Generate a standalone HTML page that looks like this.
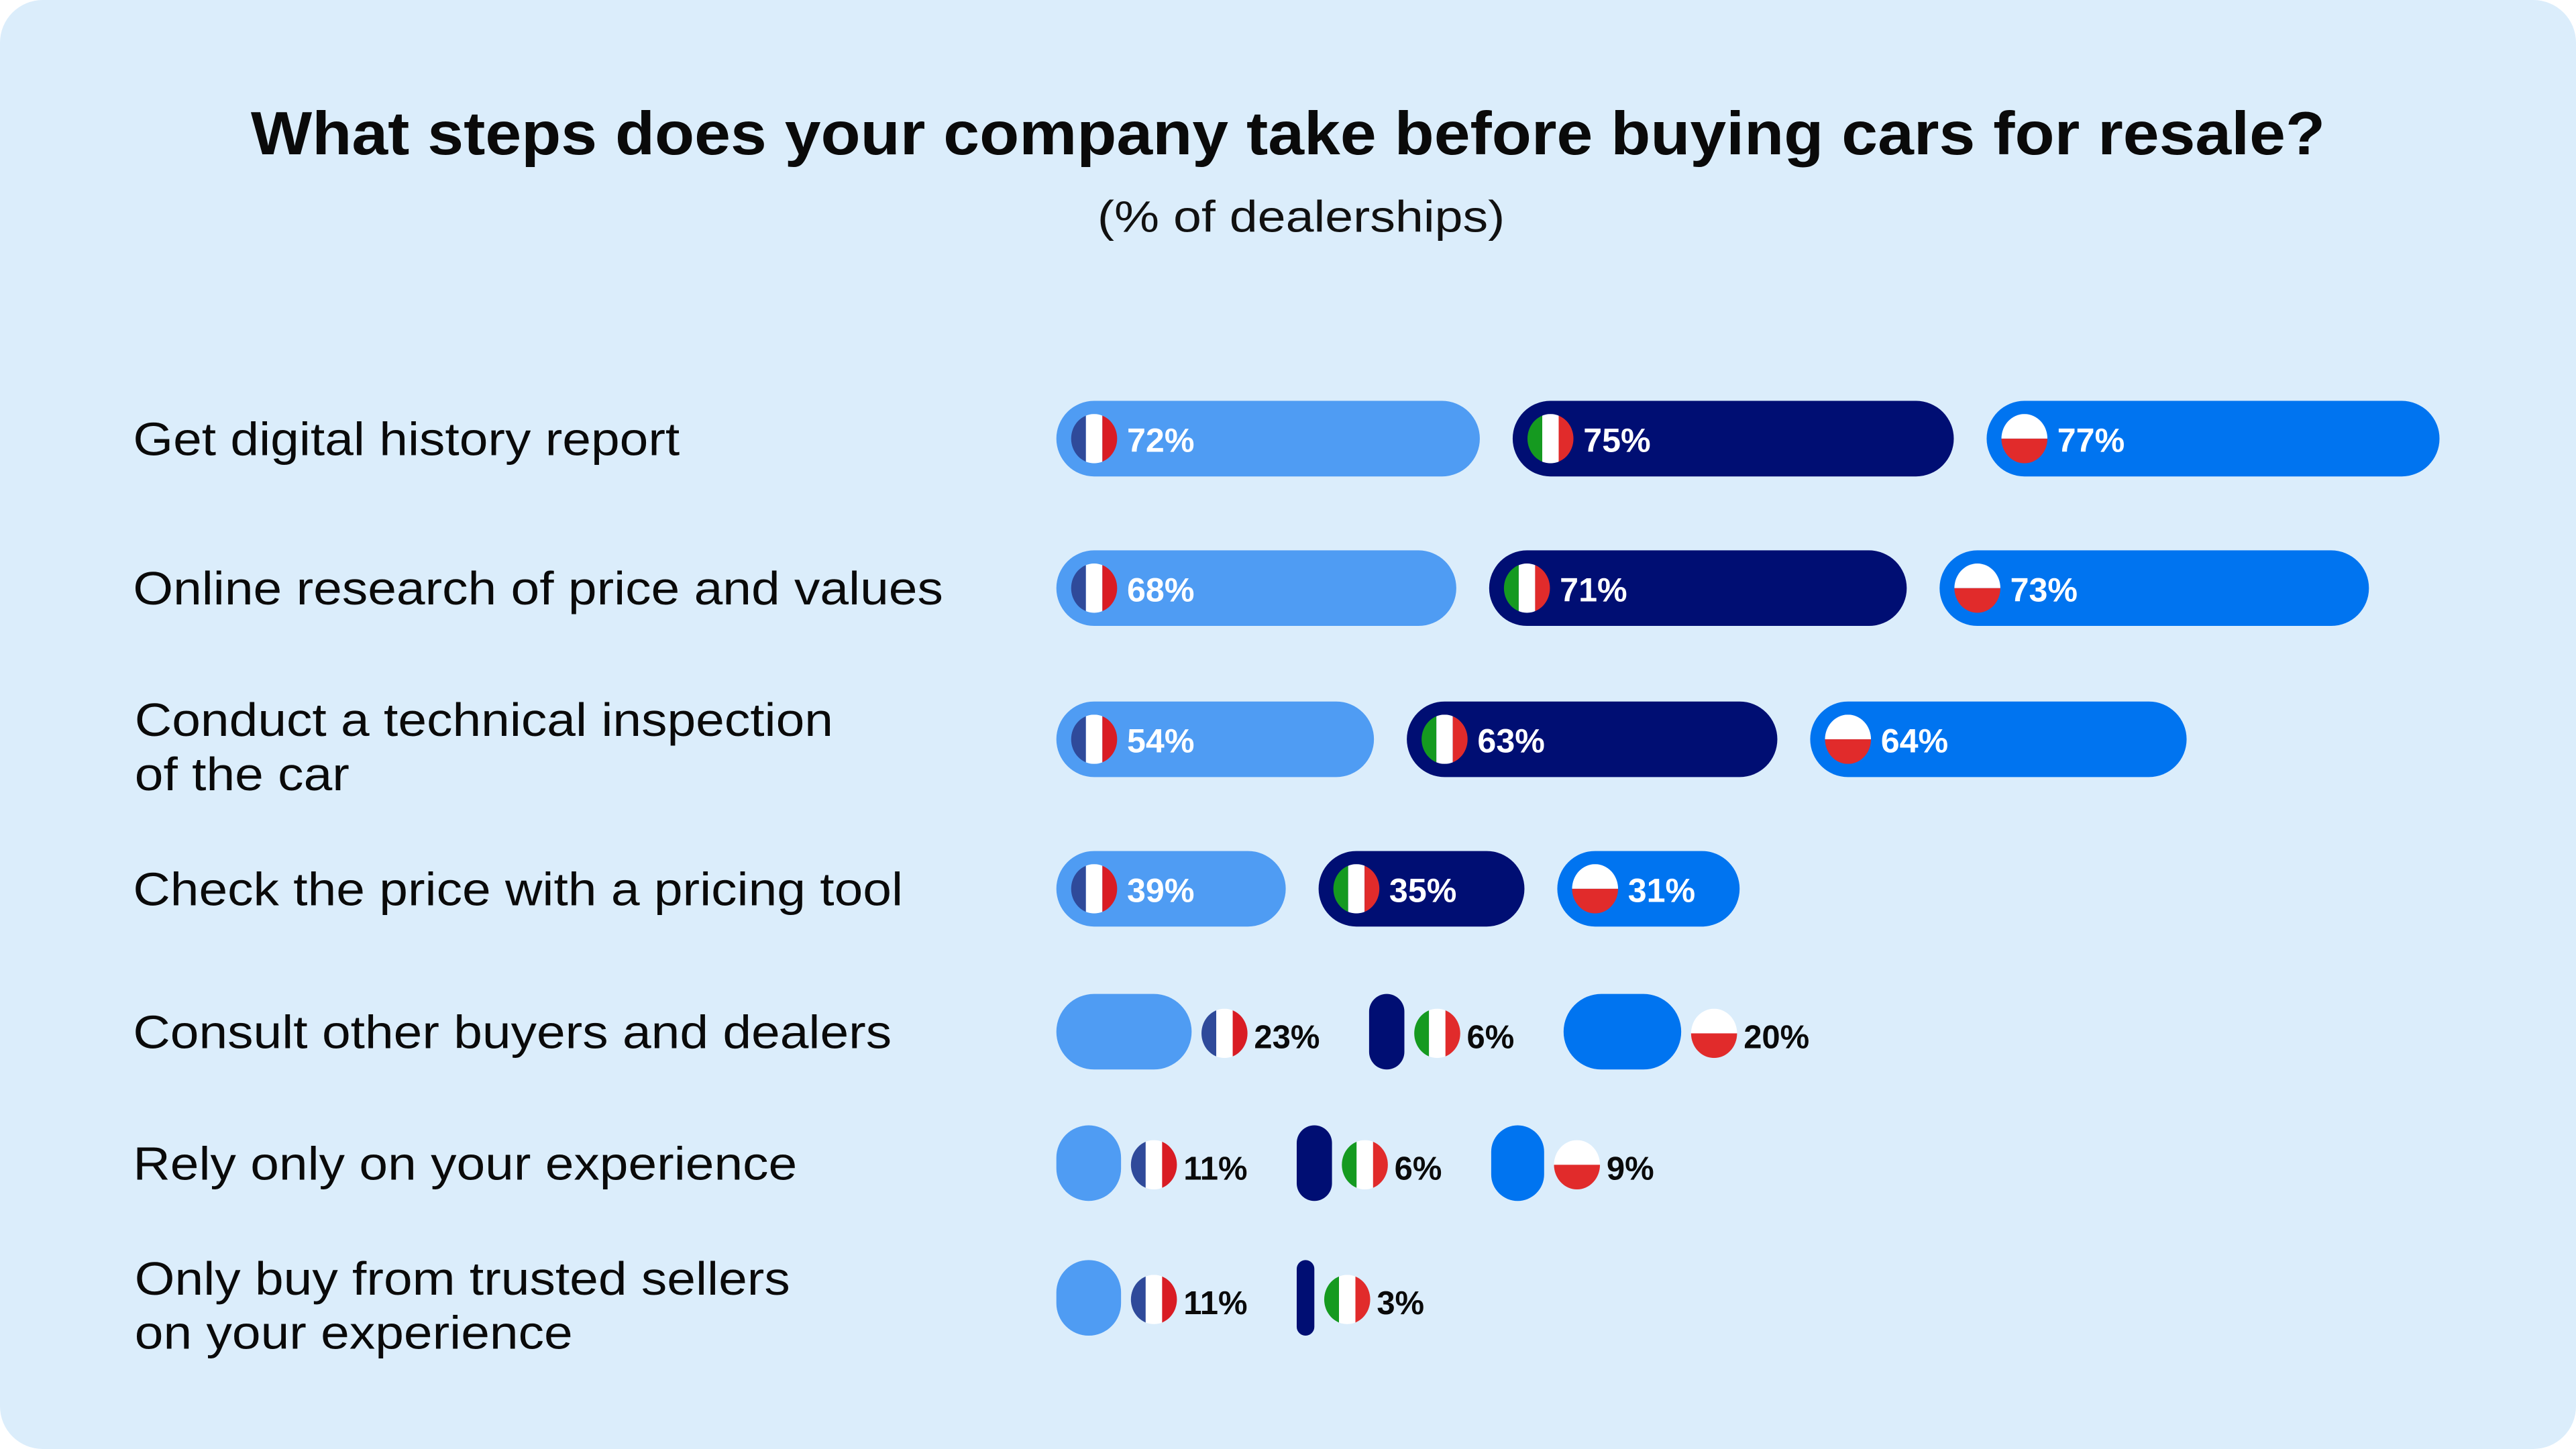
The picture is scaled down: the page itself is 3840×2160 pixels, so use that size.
<!DOCTYPE html>
<html><head><meta charset="utf-8"><style>
html,body{margin:0;padding:0;background:#fff;width:3840px;height:2160px;overflow:hidden}
svg{display:block}
text{font-family:"Liberation Sans",sans-serif}
</style></head><body>
<svg id="chart" width="3840" height="2160" viewBox="0 0 1568 882" xmlns="http://www.w3.org/2000/svg">
<rect x="0" y="0" width="1568" height="882" rx="26" fill="#DBEDFB"/>
<text id="title" x="784" y="94" text-anchor="middle" font-size="37" font-weight="bold" fill="#0a0a0a">What steps does your company take before buying cars for resale?</text>
<text id="subtitle" x="792" y="141" text-anchor="middle" font-size="27" fill="#111">(% of dealerships)</text>
<g id="rows"></g>
</svg>
<script>
const categories = [["Get digital history report"],["Online research of price and values"],["Conduct a technical inspection","of the car"],["Check the price with a pricing tool"],["Consult other buyers and dealers"],["Rely only on your experience"],["Only buy from trusted sellers","on your experience"]];
const franceValues = [72,68,54,39,23,11,11];
const italyValues = [75,71,63,35,6,6,3];
const polandValues = [77,73,64,31,20,9,null];
const seriesNames = ["france","italy","poland"];

const NS="http://www.w3.org/2000/svg";
const rowsG=document.getElementById('rows');
const colors={france:"#4F9CF3",italy:"#000E73",poland:"#0074F0"};
const rowY=[267,358,450,541,628,708,790];
const xStart=643, pxPerPct=3.58, barH=46, gap=20;
function xLen(v){return v*pxPerPct;}
function mk(tag,attrs,parent){const e=document.createElementNS(NS,tag);for(const k in attrs)e.setAttribute(k,attrs[k]);parent.appendChild(e);return e;}
function widen(el,f){const w=el.getComputedTextLength();el.setAttribute('textLength',w*f);el.setAttribute('lengthAdjust','spacingAndGlyphs');return w*f;}
widen(document.getElementById('title'),1.068);
widen(document.getElementById('subtitle'),1.14);
let clipId=0;
function flag(country,cx,cy,parent){
  const r=15;
  const g=mk('g',{},parent);
  
  
  const id='c'+(clipId++);
  const cp=mk('clipPath',{id:id},g);mk('ellipse',{cx:cx,cy:cy,rx:14,ry:r},cp);
  const inner=mk('g',{'clip-path':'url(#'+id+')'},g);
  if(country==='france'){
    mk('rect',{x:cx-r,y:cy-r,width:10,height:2*r,fill:'#2F4A9A'},inner);
    mk('rect',{x:cx-5,y:cy-r,width:10,height:2*r,fill:'#fff'},inner);
    mk('rect',{x:cx+5,y:cy-r,width:10,height:2*r,fill:'#D91C24'},inner);
  }else if(country==='italy'){
    mk('rect',{x:cx-r,y:cy-r,width:10,height:2*r,fill:'#159A20'},inner);
    mk('rect',{x:cx-5,y:cy-r,width:10,height:2*r,fill:'#fff'},inner);
    mk('rect',{x:cx+5,y:cy-r,width:10,height:2*r,fill:'#E12B2B'},inner);
  }else{
    mk('rect',{x:cx-r,y:cy-r,width:2*r,height:r,fill:'#fff'},inner);
    mk('rect',{x:cx-r,y:cy,width:2*r,height:r,fill:'#E12B2B'},inner);
  }
}
categories.forEach((lines,i)=>{
  const cy=rowY[i];
  lines.forEach((ln,j)=>{
    const multi=lines.length>1;
    const lab=mk('text',{x:multi?82:81,y:multi?cy-2+j*33:cy+10,'font-size':28.5,fill:'#0a0a0a'},rowsG);
    
    
    lab.textContent=ln;
    widen(lab,1.1);
  });
  const vals=[franceValues[i],italyValues[i],polandValues[i]];
  let x=xStart;
  vals.forEach((v,k)=>{
    if(v===null||v===undefined)return;
    const name=seriesNames[k];
    const w=xLen(v);
    const rr=Math.min(barH/2,w/2);
    const bar=mk('rect',{x:x,y:cy-barH/2,width:w,height:barH,rx:rr,ry:rr,fill:colors[name]},rowsG);
    
    
    if(v>=30){
      flag(name,x+23,cy,rowsG);
      const t=mk('text',{x:x+43,y:cy+8,'font-size':20.5,'font-weight':'bold',fill:'#fff'},rowsG);
      
      
      t.textContent=v+'%';
      x+=w+gap;
    }else{
      flag(name,x+w+20,cy+1,rowsG);
      const t=mk('text',{x:x+w+38,y:cy+10,'font-size':20,'font-weight':'bold',fill:'#0a0a0a'},rowsG);
      
      
      t.textContent=v+'%';
      const tw=t.getComputedTextLength();
      x+=w+38+tw+30;
    }
  });
});
</script>
</body></html>
